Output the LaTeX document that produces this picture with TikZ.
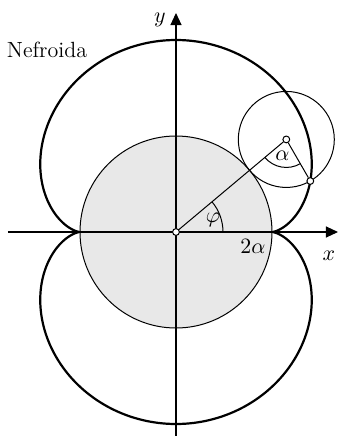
\documentclass[tikz,border=0pt]{standalone}
\usetikzlibrary{arrows.meta,calc}
\begin{document}
\begin{tikzpicture}[x=0.5pt,y=0.5pt,
  axis/.style={line width=0.55pt,-{Triangle[length=6pt,width=5.5pt]}},
  thinline/.style={line width=0.5pt},
  curve/.style={line width=1.1pt},
  dot/.style={circle,draw,fill=white,inner sep=0pt,minimum size=3.4pt,line width=0.5pt},
  lab/.style={font=\fontsize{11}{13}\selectfont}]
\useasboundingbox (-176,-204) rectangle (163,232);
% fixed circle
\fill[gray!18] (0,0) circle (96);
\draw[thinline] (0,0) circle (96);
% axes
\coordinate (xs) at (-168,0);
\coordinate (xe) at (162,0);
\coordinate (ys) at (0,-204);
\coordinate (ye) at (0,219);
\draw[axis] (xs) -- (xe);
\draw[axis] (ys) -- (ye);
% nephroid
\draw[curve,line join=round] plot[domain=0:360,samples=361,smooth] ({48*(3*cos(\x)-cos(3*\x))},{48*(3*sin(\x)-sin(3*\x))}) -- cycle;
% rolling circle
\coordinate (C) at (40:144);
\coordinate (P) at ($(C)+(300:48)$);
\draw[thinline] (C) circle (48);
% lines
\node[dot] (O) at (0,0) {};
\node[dot] (Cn) at (C) {};
\node[dot] (Pn) at (P) {};
\draw[thinline] (O) -- (Cn);
\draw[thinline] (Cn) -- (Pn);
% angle arcs
\draw[thinline] (47,0) arc (0:40:47);
\draw[thinline] ($(C)+(220:28)$) arc (220:300:28);
% labels
\node[lab] (phi) at (37,12) {$\varphi$};
\node[lab] (alpha) at ($(C)+(-4,-16)$) {$\alpha$};
\node[lab] (twoa) at (77,-14) {$2\alpha$};
\node[lab] (xl) at (153,-24) {$x$};
\node[lab] (yl) at (-16,212) {$y$};
\node[lab] (nef) at (-129,182) {Nefroida};
\end{tikzpicture}
\end{document}
